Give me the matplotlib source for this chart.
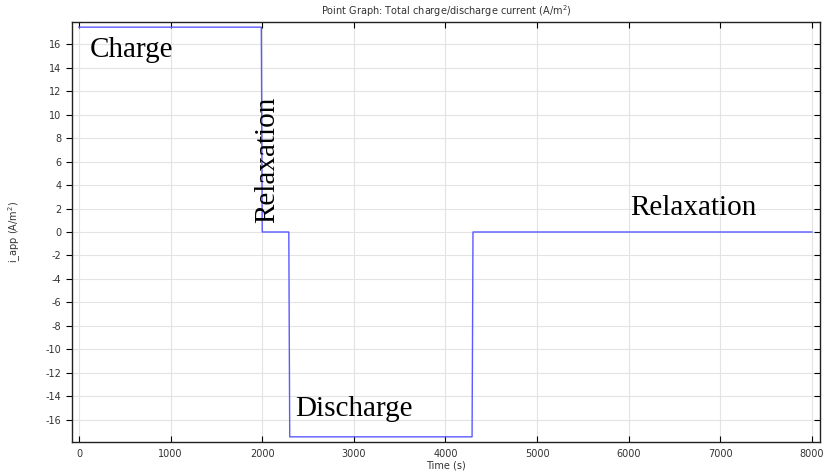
"""
Recreate the COMSOL-style point graph of the applied charge/discharge current.

Output:
    out.png
"""

import matplotlib

matplotlib.use("Agg")
import matplotlib.pyplot as plt
from matplotlib.ticker import MultipleLocator


# time (s) and applied current (A/m^2)
TIME_S = [0, 1990, 2000, 2290, 2300, 4290, 4300, 8000]
I_APP = [17.46, 17.46, 0.0, 0.0, -17.46, -17.46, 0.0, 0.0]

PHASE_LABELS = ["Charge", "Relaxation", "Discharge", "Relaxation"]
PHASE_X = [120, 2135, 2355, 6020]
PHASE_Y = [14.9, 0.75, -15.7, 1.45]
PHASE_ROTATION = [0, 90, 0, 0]

TITLE = "Point Graph: Total charge/discharge current (A/m$^2$)"
X_LABEL = "Time (s)"
Y_LABEL = "i_app (A/m$^2$)"

LINE_COLOR = "#5a5aff"
GRID_COLOR = "#e3e3e3"
TEXT_COLOR = "#333333"


def main() -> None:
    plt.rcParams["axes.unicode_minus"] = False

    fig = plt.figure(figsize=(8.25, 4.73), dpi=100)
    ax = fig.add_axes([72 / 825, 31 / 473, 748 / 825, 420 / 473])

    ax.plot(TIME_S, I_APP, color=LINE_COLOR, linewidth=1.0)

    ax.set_xlim(-76, 8087)
    ax.set_ylim(-17.9, 17.9)
    ax.xaxis.set_major_locator(MultipleLocator(1000))
    ax.yaxis.set_major_locator(MultipleLocator(2))
    ax.grid(True, color=GRID_COLOR, linewidth=0.8)
    ax.set_axisbelow(True)

    ax.tick_params(axis="x", direction="in", top=True, length=4, width=0.8,
                   labelsize=7, labelcolor=TEXT_COLOR, pad=5)
    ax.tick_params(axis="y", direction="out", length=4, width=0.8,
                   labelsize=7, labelcolor=TEXT_COLOR)
    ax.tick_params(axis="y", which="both", right=True)
    for tick in ax.yaxis.get_major_ticks():
        tick.tick2line.set_marker(matplotlib.lines.TICKLEFT)
    for spine in ax.spines.values():
        spine.set_linewidth(1.0)
        spine.set_color("#222222")

    ax.set_xlabel(X_LABEL, fontsize=7, color=TEXT_COLOR, labelpad=1)
    ax.set_ylabel(Y_LABEL, fontsize=7, color=TEXT_COLOR)
    ax.yaxis.set_label_coords(-49 / 748, 0.5)
    ax.set_title(TITLE, fontsize=7, color=TEXT_COLOR, pad=5)

    for label, x, y, rot in zip(PHASE_LABELS, PHASE_X, PHASE_Y, PHASE_ROTATION):
        if rot:
            ax.text(x, y, label, rotation=rot, fontsize=21, family="Liberation Serif",
                    ha="left", va="baseline", rotation_mode="anchor")
        else:
            ax.text(x, y, label, fontsize=21, family="Liberation Serif",
                    ha="left", va="baseline")

    fig.savefig("out.png", dpi=100)
    plt.close(fig)


if __name__ == "__main__":
    main()
